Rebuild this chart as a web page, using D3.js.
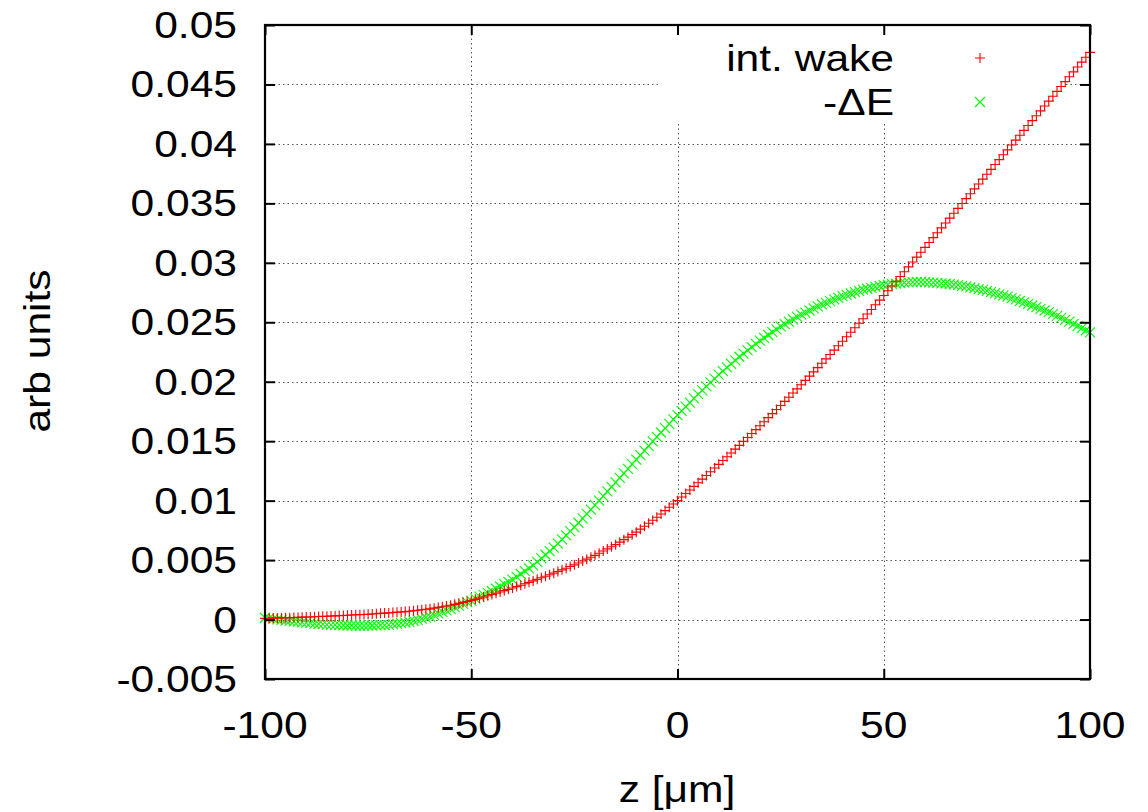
<!DOCTYPE html>
<html><head><meta charset="utf-8">
<script src="https://cdn.jsdelivr.net/npm/d3@7"></script>
<style>
body{margin:0;background:#fff;}
svg text{font-family:"Liberation Sans",Arial,Helvetica,sans-serif;fill:#000;}
</style>
</head><body>
<svg id="chart" width="1148" height="812"></svg>
<script>
// ---- data ----
const zValues = d3.range(-100, 101, 1); // sample positions z [µm]
const intWake = [
0.00010,0.00011,0.00012,0.00013,0.00014, 0.00015,0.00016,0.00017,0.00018,0.00020,
0.00021,0.00022,0.00024,0.00025,0.00027, 0.00028,0.00030,0.00031,0.00033,0.00034,
0.00036,0.00038,0.00040,0.00041,0.00043, 0.00045,0.00047,0.00049,0.00052,0.00054,
0.00056,0.00059,0.00062,0.00064,0.00067, 0.00070,0.00074,0.00078,0.00082,0.00086,
0.00090,0.00096,0.00102,0.00108,0.00114, 0.00120,0.00128,0.00136,0.00144,0.00152,
0.00160,0.00170,0.00180,0.00190,0.00200, 0.00210,0.00221,0.00232,0.00243,0.00254,
0.00265,0.00277,0.00289,0.00301,0.00313, 0.00325,0.00338,0.00351,0.00364,0.00377,
0.00390,0.00404,0.00418,0.00432,0.00446, 0.00460,0.00476,0.00492,0.00508,0.00524,
0.00540,0.00558,0.00576,0.00594,0.00612, 0.00630,0.00651,0.00672,0.00693,0.00714,
0.00735,0.00760,0.00785,0.00810,0.00835, 0.00860,0.00888,0.00916,0.00944,0.00972,
0.01000,0.01030,0.01060,0.01090,0.01120, 0.01150,0.01181,0.01212,0.01243,0.01274,
0.01305,0.01337,0.01369,0.01401,0.01433, 0.01465,0.01498,0.01531,0.01564,0.01597,
0.01630,0.01664,0.01698,0.01732,0.01766, 0.01800,0.01835,0.01870,0.01905,0.01940,
0.01975,0.02011,0.02047,0.02083,0.02119, 0.02155,0.02192,0.02229,0.02266,0.02303,
0.02340,0.02378,0.02416,0.02454,0.02492, 0.02530,0.02569,0.02608,0.02647,0.02686,
0.02725,0.02765,0.02805,0.02845,0.02885, 0.02925,0.02966,0.03007,0.03048,0.03089,
0.03130,0.03171,0.03212,0.03253,0.03294, 0.03335,0.03376,0.03417,0.03458,0.03499,
0.03540,0.03581,0.03622,0.03663,0.03704, 0.03745,0.03786,0.03827,0.03868,0.03909,
0.03950,0.03991,0.04032,0.04073,0.04114, 0.04155,0.04196,0.04237,0.04278,0.04319,
0.04360,0.04401,0.04442,0.04483,0.04524, 0.04565,0.04606,0.04647,0.04688,0.04729,
0.04770
];
const minusDeltaE = [
0.00015,0.00010,0.00006,0.00001,-0.00003, -0.00008,-0.00012,-0.00016,-0.00020,-0.00024,
-0.00028,-0.00031,-0.00034,-0.00036,-0.00039, -0.00042,-0.00044,-0.00045,-0.00047,-0.00048,
-0.00050,-0.00050,-0.00051,-0.00051,-0.00052, -0.00052,-0.00050,-0.00049,-0.00047,-0.00046,
-0.00044,-0.00039,-0.00034,-0.00030,-0.00025, -0.00020,-0.00011,-0.00002,0.00007,0.00016,
0.00025,0.00038,0.00051,0.00064,0.00077, 0.00090,0.00104,0.00118,0.00132,0.00146,
0.00160,0.00176,0.00192,0.00208,0.00224, 0.00240,0.00259,0.00278,0.00297,0.00316,
0.00335,0.00359,0.00383,0.00407,0.00431, 0.00455,0.00485,0.00515,0.00545,0.00575,
0.00605,0.00639,0.00674,0.00708,0.00743, 0.00777,0.00814,0.00851,0.00888,0.00925,
0.00962,0.01000,0.01038,0.01077,0.01115, 0.01153,0.01191,0.01230,0.01268,0.01307,
0.01345,0.01383,0.01421,0.01460,0.01498, 0.01536,0.01573,0.01610,0.01646,0.01683,
0.01720,0.01755,0.01790,0.01825,0.01860, 0.01895,0.01928,0.01961,0.01994,0.02027,
0.02060,0.02090,0.02120,0.02150,0.02180, 0.02210,0.02237,0.02264,0.02291,0.02318,
0.02345,0.02369,0.02393,0.02417,0.02441, 0.02465,0.02485,0.02505,0.02525,0.02545,
0.02565,0.02582,0.02599,0.02616,0.02633, 0.02650,0.02664,0.02678,0.02692,0.02706,
0.02720,0.02731,0.02742,0.02753,0.02764, 0.02775,0.02782,0.02790,0.02797,0.02805,
0.02812,0.02816,0.02821,0.02825,0.02830, 0.02834,0.02836,0.02838,0.02839,0.02839,
0.02838,0.02836,0.02833,0.02831,0.02828, 0.02826,0.02821,0.02816,0.02812,0.02807,
0.02802,0.02794,0.02787,0.02779,0.02772, 0.02764,0.02754,0.02745,0.02735,0.02726,
0.02716,0.02704,0.02692,0.02679,0.02667, 0.02655,0.02641,0.02627,0.02613,0.02599,
0.02585,0.02569,0.02553,0.02537,0.02521, 0.02505,0.02487,0.02469,0.02451,0.02433,
0.02415
];
const xTicks = [-100, -50, 0, 50, 100];
const xTickLabels = ["-100", "-50", "0", "50", "100"];
const yTicks = [-0.005, 0, 0.005, 0.01, 0.015, 0.02, 0.025, 0.03, 0.035, 0.04, 0.045, 0.05];
const yTickLabels = ["-0.005","0","0.005","0.01","0.015","0.02","0.025","0.03","0.035","0.04","0.045","0.05"];
const seriesNames = ["int. wake", "-\u0394E"];
const seriesColors = ["#ff0000", "#00ff00"];
const xLabel = "z [\u03bcm]";
const yLabel = "arb units";

// ---- layout ----
const P = {left: 265, right: 1090, top: 25, bottom: 679};
const SX = 1.15;    // horizontal stretch of the text
const FS = 37;

const svg = d3.select("#chart");
const x = d3.scaleLinear().domain([-100, 100]).range([P.left, P.right]);
const y = d3.scaleLinear().domain([-0.005, 0.05]).range([P.bottom, P.top]);

// grid
const grid = svg.append("g").attr("stroke", "#555").attr("stroke-width", 1)
  .attr("stroke-dasharray", "1.5,3");
grid.selectAll(".gx").data(xTicks.slice(1, -1)).join("line")
  .attr("x1", d => Math.round(x(d)) + 0.5).attr("x2", d => Math.round(x(d)) + 0.5)
  .attr("y1", P.top).attr("y2", P.bottom);
grid.selectAll(".gy").data(yTicks.slice(1, -1)).join("line")
  .attr("y1", d => Math.round(y(d)) + 0.5).attr("y2", d => Math.round(y(d)) + 0.5)
  .attr("x1", P.left).attr("x2", P.right);

// opaque key box
svg.append("rect").attr("x", 660).attr("y", P.top).attr("width", 406).attr("height", 97)
  .attr("fill", "#fff");

// series
const plus = "M-5,0H5M0,-5V5";
const cross = "M-5,-5L5,5M-5,5L5,-5";
const series = [
  {name: seriesNames[1], color: seriesColors[1], sym: cross, vals: minusDeltaE},
  {name: seriesNames[0], color: seriesColors[0], sym: plus, vals: intWake}
];
series.forEach(s => {
  svg.append("g").attr("stroke", s.color).attr("stroke-width", 1.1).attr("fill", "none")
    .selectAll("path").data(zValues.map((z, i) => [z, s.vals[i]])).join("path")
    .attr("d", s.sym)
    .attr("transform", d => `translate(${x(d[0])},${y(d[1])})`);
});

// axes (inward ticks on all four sides)
const tickLen = 10;
const axisG = [];
axisG.push(svg.append("g").attr("transform", `translate(0,${P.bottom})`)
  .call(d3.axisBottom(x).tickValues(xTicks).tickSize(-tickLen).tickFormat("")));
axisG.push(svg.append("g").attr("transform", `translate(0,${P.top})`)
  .call(d3.axisTop(x).tickValues(xTicks).tickSize(-tickLen).tickFormat("")));
axisG.push(svg.append("g").attr("transform", `translate(${P.left},0)`)
  .call(d3.axisLeft(y).tickValues(yTicks).tickSize(-tickLen).tickFormat("")));
axisG.push(svg.append("g").attr("transform", `translate(${P.right},0)`)
  .call(d3.axisRight(y).tickValues(yTicks).tickSize(-tickLen).tickFormat("")));
axisG.forEach(g => {
  g.select(".domain").remove();
  g.selectAll(".tick line").attr("stroke", "#000").attr("stroke-width", 2);
});
svg.append("rect").attr("x", P.left).attr("y", P.top)
  .attr("width", P.right - P.left).attr("height", P.bottom - P.top)
  .attr("fill", "none").attr("stroke", "#000").attr("stroke-width", 2.2);

// tick labels
function stretchedText(g, tx, ty, txt, anchor, size) {
  return g.append("text")
    .attr("transform", `translate(${tx},${ty}) scale(${SX},1)`)
    .attr("text-anchor", anchor).attr("font-size", size || FS).text(txt);
}
const labels = svg.append("g");
yTicks.forEach((v, i) => stretchedText(labels, 237, y(v) + 13, yTickLabels[i], "end"));
xTicks.forEach((v, i) => stretchedText(labels, x(v), 738, xTickLabels[i], "middle"));

// axis titles
stretchedText(svg, 677, 802, xLabel, "middle");
svg.append("text").attr("transform", `translate(50,351) rotate(-90) scale(${SX},1)`)
  .attr("text-anchor", "middle").attr("font-size", FS).text(yLabel);

// legend
const leg = [
  {name: seriesNames[0], color: seriesColors[0], sym: plus, yy: 58},
  {name: seriesNames[1], color: seriesColors[1], sym: cross, yy: 102}
];
leg.forEach(l => {
  stretchedText(svg, 894, l.yy + 13, l.name, "end");
  svg.append("path").attr("d", l.sym).attr("stroke", l.color).attr("stroke-width", 1.1)
    .attr("fill", "none").attr("transform", `translate(980,${l.yy})`);
});
</script>
</body></html>
